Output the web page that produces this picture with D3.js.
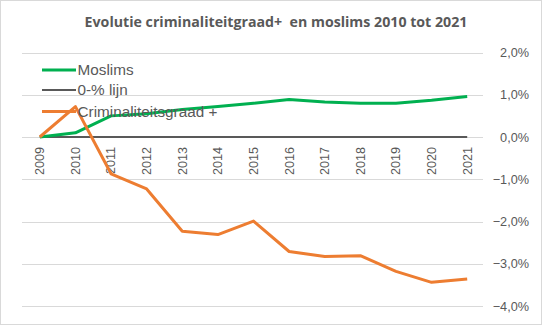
<!DOCTYPE html>
<html><head><meta charset="utf-8">
<script src="https://cdn.jsdelivr.net/npm/d3@7"></script>
<style>body{margin:0;background:#fff;}svg{display:block;}</style>
</head><body>
<script>
const years = ["2009","2010","2011","2012","2013","2014","2015","2016","2017","2018","2019","2020","2021"];
const moslims = [0, 0.1, 0.5, 0.55, 0.65, 0.72, 0.8, 0.89, 0.83, 0.8, 0.8, 0.87, 0.96];
const nulLijn = [0,0,0,0,0,0,0,0,0,0,0,0,0];
const crimi = [0, 0.72, -0.87, -1.23, -2.23, -2.31, -1.99, -2.71, -2.83, -2.81, -3.18, -3.44, -3.36];
const yTicks = [2,1,0,-1,-2,-3,-4];
const seriesNames = ["Moslims","0-% lijn","Criminaliteitsgraad +"];
const colors = ["#00B050","#595959","#ED7D31"];

const W=542,H=325;
const svg=d3.select("body").append("svg").attr("width",W).attr("height",H);
svg.append("rect").attr("x",0.5).attr("y",0.5).attr("width",W-1).attr("height",H-1).attr("fill","#fff").attr("stroke","#D9D9D9");

const x=d3.scaleBand().domain(years).range([22,485]);
const y=d3.scaleLinear().domain([-4,2]).range([306,52.5]);
const cx=d=>x(d)+x.bandwidth()/2;

// gridlines
svg.append("g").selectAll("line").data(yTicks).join("line")
 .attr("x1",22).attr("x2",483).attr("y1",d=>Math.round(y(d))+0.5).attr("y2",d=>Math.round(y(d))+0.5)
 .attr("stroke","#D9D9D9").attr("stroke-width",1);

// right axis labels
const fmt=d=>d3.format(".1f")(d).replace(".",",")+"%";
const ax=d3.axisRight(y).tickValues(yTicks).tickSize(0).tickPadding(0).tickFormat(fmt);
const gA=svg.append("g").attr("transform","translate(529,0)").call(ax);
gA.select(".domain").remove();
gA.selectAll("text").attr("text-anchor","end").attr("fill","#595959")
 .style("font-family","'Liberation Sans',Arial,sans-serif").style("font-size","12.7px");

// x labels
const xa=d3.axisBottom(x).tickSize(0).tickPadding(0);
const gX=svg.append("g").call(xa);
gX.select(".domain").remove();
gX.selectAll(".tick").attr("transform",null);
gX.selectAll("text").attr("transform",d=>`translate(${cx(d)},147) rotate(-90)`)
 .attr("x",0).attr("y",0).attr("dy","0.35em").attr("text-anchor","end").attr("fill","#595959")
 .style("font-family","'Liberation Sans',Arial,sans-serif").style("font-size","12.6px");

const line=d3.line().x((d,i)=>cx(years[i])).y(d=>y(d));
const data=[moslims,nulLijn,crimi];
const widths=[3,2,3];
[1,0,2].forEach(k=>{
  svg.append("path").datum(data[k]).attr("d",line).attr("fill","none")
   .attr("stroke",colors[k]).attr("stroke-width",widths[k]).attr("stroke-linejoin","round");
});

// legend
const lg=svg.append("g");
const ly=[70,90,111.5];
seriesNames.forEach((n,i)=>{
  lg.append("line").attr("x1",42).attr("x2",76).attr("y1",ly[i]).attr("y2",ly[i])
   .attr("stroke",colors[i]).attr("stroke-width",i==1?2:3);
  lg.append("text").attr("x",77.5).attr("y",ly[i]).attr("dy","0.35em").text(n)
   .attr("fill","#595959").style("font-family","'Liberation Sans',Arial,sans-serif").style("font-size","15.3px");
});

// title
svg.append("text").attr("x",276).attr("y",27).attr("text-anchor","middle")
 .text("Evolutie criminaliteitgraad+  en moslims 2010 tot 2021")
 .attr("fill","#595959").style("font-family","'Open Sans',sans-serif").style("font-weight","bold").style("font-size","14.2px")
 .style("white-space","pre");
</script>
</body></html>
